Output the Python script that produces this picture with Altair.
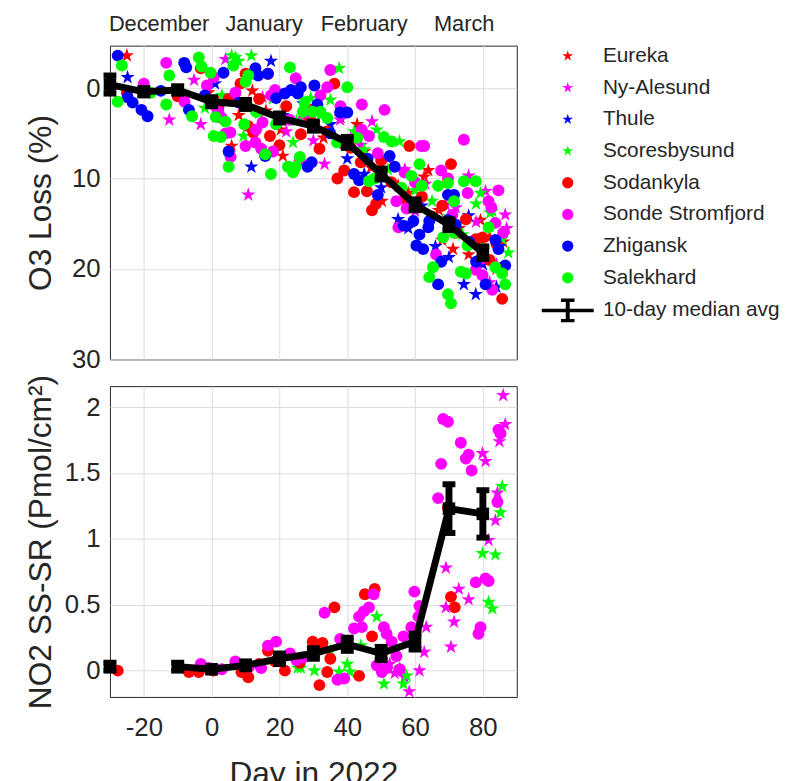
import altair as alt
import pandas as pd

FONT = "Liberation Sans"
TXT = "#262626"

stations = ["Eureka", "Ny-Alesund", "Thule", "Scoresbysund",
            "Sodankyla", "Sonde Stromfjord", "Zhigansk", "Salekhard"]
star_stations = stations[:4]
circle_stations = stations[4:]
median_label = "10-day median avg"
legend_domain = stations + [median_label]
legend_colors = ["#ff0000", "#ff00ff", "#0000ff", "#00ff00",
                 "#ff0000", "#ff00ff", "#0000ff", "#00ff00", "#000000"]
# five-pointed star (pentagram marker)
star_path = ("M0,-1L0.2245,-0.309L0.951,-0.309L0.3633,0.118L0.588,0.809L0,0.382"
             "L-0.588,0.809L-0.3633,0.118L-0.951,-0.309L-0.2245,-0.309Z")
# line with error bar glyph for the legend
errbar_path = ("M-4.6,-0.3H4.6V0.3H-4.6Z M-0.35,-2.1H0.35V2.1H-0.35Z "
               "M-1.2,-2.1H1.2V-1.5H-1.2Z M-1.2,1.5H1.2V2.1H-1.2Z")
legend_shapes = [star_path] * 4 + ["circle"] * 4 + [errbar_path]

x_ticks = [-20, 0, 20, 40, 60, 80]
months = ["December", "January", "February", "March"]
month_mid = [-15.5, 15.5, 45, 74.5]

# ---- O3 loss (%) per station: (day, value)
eureka_o3 = [(-25,-3.6),(-1,0.5),(2,1.5),(5.9,6.4),(8,3.0),(12,0.3),(16,2.5),(19.6,4.0),(20.4,4.6),(21,7.5),
             (28,2.0),(33,5.5),(38,3.2),(42.9,4.0),(45,7.0),(47,8.8),(50.2,12.5),(55,10.8),(58,11.6),(62.7,9.8),
             (63.9,9.1),(67,13.5),(68,16.8),(71.2,17.8),(73,15.5),(75.8,18.4),(79.3,14.6),(82,16.5),(84,20.0),(86,17.0)]
nyal_o3 = [(-12.5,3.5),(-5.2,-0.9),(-3.2,4.0),(1,2.4),(4.1,-3.2),(10.8,11.8),(15,1.0),(22,4.8),(26,3.5),(30,5.8),
           (33.3,8.4),(37.9,3.5),(41,5.5),(44,6.3),(47.3,3.7),(52,7.8),(57,9.0),(60,13.6),(63,10.6),(69.1,12.9),
           (72,13.2),(75.8,9.7),(78,14.8),(80.8,11.4),(82,21.5),(84,19.5),(86.6,14.0),(87,15.5)]
thule_o3 = [(-24.8,-1.2),(1,-0.5),(11.7,8.7),(17.5,-3.0),(21,3.0),(27,1.7),(35,4.0),(40,7.8),(45,9.5),(50,11.0),
            (55,14.5),(58,15.5),(62,13.0),(66,17.5),(70,18.7),(74.4,21.7),(75.8,14.1),(77.9,22.8),(80,19.5),(84,22.0),(85,17.5)]
scor_o3 = [(-2,2.2),(3,0.8),(5.9,-3.6),(7.0,-3.4),(7.9,-3.0),(9.4,5.3),(11.7,-3.6),(14,2.8),(18,1.2),(24,6.0),
           (25,3.6),(29.2,1.1),(32,3.0),(35,1.3),(37.6,-2.2),(42,4.8),(45,6.8),(48.7,4.6),(52,9.0),(55.4,5.9),
           (60,11.3),(65,12.5),(70,14.2),(74,16.2),(78,12.8),(79.3,11.6),(82.2,13.8),(82.8,13.6),(85.7,16.7),(87.5,18.2)]
soda_o3 = [(-25,0.5),(-10,0.9),(-3.2,-2.2),(2,2.1),(5,1.2),(8.5,-0.5),(10,-1.6),(10.8,4.2),(12.3,4.9),(14,1.2),
           (16.6,-1.6),(17.2,5.3),(20,6.3),(22,2.0),(26.3,5.1),(29,3.4),(31.8,6.7),(34,4.8),(36.2,-0.5),(37.1,10.0),
           (39.1,9.1),(41,6.6),(42,11.5),(44,8.2),(45.8,11.4),(47.3,13.5),(48.5,12.8),(50,8.0),(53,10.4),(57,12.2),
           (58.3,6.4),(62,12.0),(65,14.2),(68,13.0),(70.6,8.4),(72,16.0),(75,14.5),(77.9,16.7),(79.9,16.5),(82,19.0),
           (84,17.2),(85.7,23.3)]
sonde_o3 = [(-20,-0.5),(-13.4,-2.8),(-8,1.5),(-1.4,-0.3),(0.6,-1.2),(2,2.6),(3,3.3),(4.1,5.0),(5.5,4.9),(5.6,7.6),
            (7,0.5),(10,6.4),(12.9,6.0),(13.1,4.6),(14.6,6.7),(15,3.8),(17.5,0.8),(18.1,7.0),(18.7,0.2),(23,3.5),
            (24.8,-1.1),(26,8.0),(28,2.7),(32.1,0.8),(34.1,-0.1),(35,-2.0),(38,2.0),(39,6.2),(44.3,1.8),(44.3,4.6),
            (46.4,5.3),(49,7.2),(51,2.4),(54.5,12.5),(55.1,15.4),(56.9,9.3),(57.5,13.3),(60,10.4),(61.8,6.4),(62.7,6.4),
            (66.2,18.4),(67.7,9.1),(69.7,10.0),(71,14.0),(74.4,5.7),(75.5,11.6),(77.9,20.1),(79.3,18.9),(79.9,20.7),
            (81.7,12.5),(82.5,13.2),(82.8,22.3),(83.7,14.9),(84.6,11.3),(86,16.0)]
zhig_o3 = [(-27.7,-3.6),(-24.8,1.0),(-23.3,1.6),(-20.7,2.4),(-18.9,3.1),(-15,0.3),(-8.1,-2.8),(-7.5,-2.3),(-6.7,2.4),
           (-2,0.8),(3.5,-1.7),(5,7.0),(8,1.6),(12.9,-2.2),(13.7,-1.4),(15.8,7.5),(16.6,-1.6),(19,1.1),(21.6,0.6),
           (23.4,0.2),(25.4,0.6),(26.3,-0.1),(28.3,8.7),(29.5,8.2),(30.3,-0.3),(31.2,1.8),(35,5.0),(37.9,2.7),(40,2.7),
           (42,9.5),(43.5,10.2),(46,7.8),(49,11.8),(52.5,7.5),(54,8.7),(56.6,15.2),(59.5,14.7),(60.4,17.4),(61.3,16.2),
           (62.4,17.8),(63.9,15.4),(64.2,14.7),(66.8,21.7),(67.7,19.2),(69.7,11.8),(69.7,14.6),(71.5,11.8),(72,15.1),
           (76,17.0),(78,19.2),(80.8,21.7),(83.7,16.8),(84.6,17.8),(86.6,19.6)]
salek_o3 = [(-27.7,1.5),(-26.5,-2.5),(-18,0.5),(-13.4,1.8),(-12.5,-1.4),(-5.8,3.1),(-3.8,-3.4),(-3.0,-2.4),(-0.3,-1.7),
            (0.6,5.3),(1.2,3.2),(2.7,5.4),(4.1,3.7),(5,8.7),(6.4,-2.5),(10,-0.7),(9.6,4.0),(10.8,-1.4),(13.1,2.6),
            (15.8,7.3),(17.5,9.5),(19,4.0),(22.5,8.7),(23.1,-2.3),(24,9.3),(24.8,8.7),(26,7.6),(26.9,2.6),(27.4,1.6),
            (29.8,2.6),(32.1,2.6),(34.1,3.3),(37,6.0),(40,-0.1),(43,5.5),(46.4,10.3),(48.1,10.0),(50.8,5.4),(53.1,5.9),
            (56,11.0),(58.9,9.7),(61.3,8.4),(62,10.8),(64.2,20.9),(65.3,19.8),(66.8,10.8),(68.3,16.5),(69.7,10.5),
            (69.7,22.8),(70.6,23.8),(71.5,12.5),(71.5,16.0),(73.5,20.3),(74.4,10.3),(75,20.5),(75.5,17.4),(77.9,10.3),
            (80,17.8),(81.7,15.4),(83.7,19.8),(85.7,20.5),(86.6,21.7)]

# ---- NO2 SS-SR (Pmol/cm2) per station: (day, value)
soda_no2 = [(-27.7,0.0),(-6.7,-0.01),(-3.8,-0.01),(0.5,0.0),(8.8,-0.01),(10.8,-0.05),(14,0.05),(16.6,0.15),(18.7,0.07),
            (21.6,0.0),(26,0.06),(29.8,0.22),(31.8,-0.11),(32.7,0.21),(34.1,-0.01),(35,0.09),(36.2,0.48),(43.5,-0.04),
            (45.2,0.58),(47.3,0.26),(48.1,0.62),(69.7,1.24),(70.6,0.56),(71.7,0.48)]
sonde_no2 = [(-3.2,0.05),(-1,0.02),(3,0.01),(7,0.07),(11,0.03),(14.6,0.02),(16.6,0.19),(19,0.22),(23.1,0.13),(25,0.08),
             (27,0.1),(33.3,0.44),(37.1,-0.07),(37.9,0.24),(39.1,-0.06),(42,0.32),(43.5,0.41),(44.3,0.33),(44.9,0.45),
             (46.4,0.48),(47.8,0.58),(48.7,0.04),(50.2,-0.01),(50.8,0.33),(51.6,0.28),(51.6,0.02),(53.1,0.22),(54.5,0.11),
             (55.5,0.01),(56.6,0.26),(58.9,0.33),(59.8,0.6),(61,0.41),(61.3,0.49),(66.8,1.31),(67.7,1.57),(68.3,1.91),
             (69.7,1.89),(73.5,1.73),(75,1.61),(75.8,1.64),(76.7,1.52),(77.9,0.67),(78.7,0.28),(79.3,0.33),(80.8,0.7),
             (81.7,0.68),(84.3,1.28),(84.6,1.83),(85.2,1.8)]
nyal_no2 = [(52.5,0.05),(54,-0.02),(56.9,-0.05),(58.3,-0.16),(61.3,0.0),(62.7,0.14),(63.3,0.33),(69.1,0.78),(69.1,0.48),
            (70.6,0.18),(71.5,0.37),(72.9,0.62),(75.8,0.54),(79.9,1.65),(80.8,1.59),(81.7,0.99),(83.7,1.14),(84.3,1.35),
            (84.9,1.74),(86.0,2.09),(86.6,1.87)]
scor_no2 = [(25.4,0.02),(26.3,0.02),(30.3,0.0),(35,0.15),(37.6,-0.01),(40,0.05),(40.8,-0.01),(44,0.19),(48.7,0.41),
            (50.8,-0.1),(55.4,0.02),(56.6,-0.1),(57.5,-0.04),(79.9,0.89),(81.7,0.52),(82.8,0.47),(83.7,0.88),
            (85.2,1.2),(85.7,1.4)]

# ---- 10-day median averages with error bars
med_day = [-30, -20, -10, 0, 10, 20, 30, 40, 50, 60, 70, 80]
o3_med = [-0.4, 0.4, 0.2, 1.5, 1.8, 3.3, 4.2, 6.0, 9.5, 12.9, 15.1, 18.2]
o3_err = [1.0, 0.4, 0.4, 0.5, 0.5, 0.5, 0.5, 0.6, 0.6, 0.6, 0.6, 0.7]
no2_day = [-30, -10, 0, 10, 20, 30, 40, 50, 60, 70, 80]
no2_med = [0.03, 0.03, 0.01, 0.04, 0.09, 0.13, 0.2, 0.13, 0.22, 1.23, 1.19]
no2_err = [0.03, 0.03, 0.02, 0.03, 0.04, 0.04, 0.05, 0.05, 0.06, 0.185, 0.18]
no2_seg = [0, 1, 1, 1, 1, 1, 1, 1, 1, 1, 1]


def frame(pairs, station):
    return pd.DataFrame({"day": [p[0] for p in pairs], "val": [p[1] for p in pairs],
                         "station": station})


o3_df = pd.concat([frame(p, s) for p, s in zip(
    [eureka_o3, nyal_o3, thule_o3, scor_o3, soda_o3, sonde_o3, zhig_o3, salek_o3], stations)], ignore_index=True)
no2_df = pd.concat([frame(p, s) for p, s in zip(
    [nyal_no2, scor_no2, soda_no2, sonde_no2],
    ["Ny-Alesund", "Scoresbysund", "Sodankyla", "Sonde Stromfjord"])], ignore_index=True)

o3_med_df = pd.DataFrame({"day": med_day, "val": o3_med,
                          "lo": [m - e for m, e in zip(o3_med, o3_err)],
                          "hi": [m + e for m, e in zip(o3_med, o3_err)]})
no2_med_df = pd.DataFrame({"day": no2_day, "val": no2_med, "seg": no2_seg,
                           "lo": [m - e for m, e in zip(no2_med, no2_err)],
                           "hi": [m + e for m, e in zip(no2_med, no2_err)]})
month_df = pd.DataFrame({"mid": month_mid, "month": months})

x_scale = alt.Scale(domain=[-30, 90], nice=False, zero=False)

leg = alt.Legend(title=None, labelFontSize=21, labelColor=TXT, labelLimit=300,
                 symbolSize=130, rowPadding=10, labelOffset=25, offset=40, symbolStrokeWidth=0)
color_enc = alt.Color("station:N", scale=alt.Scale(domain=legend_domain, range=legend_colors), legend=leg)
shape_enc = alt.Shape("station:N", scale=alt.Scale(domain=legend_domain, range=legend_shapes), legend=leg)


def panel(df, med_df, y_scale, y_axis, x_axis, has_seg):
    x = alt.X("day:Q", scale=x_scale, axis=x_axis)
    y = alt.Y("val:Q", scale=y_scale, axis=y_axis)
    stars = alt.Chart(df[df.station.isin(star_stations)]).mark_point(
        filled=True, opacity=1, size=230).encode(x=x, y=y, color=color_enc, shape=shape_enc)
    circles = alt.Chart(df[df.station.isin(circle_stations)]).mark_point(
        filled=True, opacity=1, size=145).encode(x=x, y=y, color=color_enc, shape=shape_enc)
    line_enc = dict(x=x, y=y)
    if has_seg:
        line_enc["detail"] = "seg:N"
    line = alt.Chart(med_df).mark_line(color="black", strokeWidth=7).encode(**line_enc)
    bars = alt.Chart(med_df).mark_rule(color="black", strokeWidth=7).encode(
        x=x, y=alt.Y("lo:Q", scale=y_scale), y2=alt.Y2("hi"))
    cap_lo = alt.Chart(med_df).mark_tick(color="black", orient="horizontal", size=13, thickness=6,
                                         opacity=1).encode(x=x, y=alt.Y("lo:Q", scale=y_scale))
    cap_hi = alt.Chart(med_df).mark_tick(color="black", orient="horizontal", size=13, thickness=6,
                                         opacity=1).encode(x=x, y=alt.Y("hi:Q", scale=y_scale))
    sq = alt.Chart(med_df).mark_square(filled=True, color="black", size=160,
                                       opacity=1).encode(x=x, y=y)
    return [stars, circles, line, bars, cap_lo, cap_hi, sq]


top_x_axis = alt.Axis(values=x_ticks, labels=False, title=None, grid=True, labelPadding=0,
                      minExtent=0, maxExtent=0)
top_layers = panel(
    o3_df, o3_med_df,
    alt.Scale(domain=[-4.7, 30], reverse=True, nice=False, zero=False),
    alt.Axis(values=[0, 10, 20, 30], title="O3 Loss (%)", titleX=-70, titleBaseline="middle"),
    top_x_axis,
    False)
months_layer = alt.Chart(month_df).mark_text(fontSize=22, color=TXT, baseline="middle",
                                             align="center").encode(
    x=alt.X("mid:Q", scale=x_scale, axis=top_x_axis),
    y=alt.value(-22), text="month:N")
top = alt.layer(*top_layers, months_layer).properties(width=411, height=317)

bottom_layers = panel(
    no2_df, no2_med_df,
    alt.Scale(domain=[-0.2, 2.16], nice=False, zero=False),
    alt.Axis(values=[0, 0.5, 1, 1.5, 2], format=".1~f", title="NO2 SS-SR (Pmol/cm²)",
             titleX=-70, titleBaseline="middle"),
    alt.Axis(values=x_ticks, title="Day in 2022", labelPadding=18, titlePadding=18,
             labelExpr="'' + datum.value"),
    True)
bottom = alt.layer(*bottom_layers).properties(width=411, height=314)

chart = alt.vconcat(top, bottom, spacing=0).properties(
    padding={"left": 16, "top": 0, "right": 5, "bottom": 0}
).configure(font=FONT).configure_view(
    stroke=TXT, strokeWidth=1
).configure_axis(
    labelFontSize=26, labelColor=TXT, titleFontSize=32,
    titleFontWeight="normal", titleColor=TXT, gridColor="#dcdcdc", gridWidth=1,
    domain=False, ticks=False, labelPadding=10
)

chart.save("out.html", embed_options={"renderer": "svg", "actions": False})
